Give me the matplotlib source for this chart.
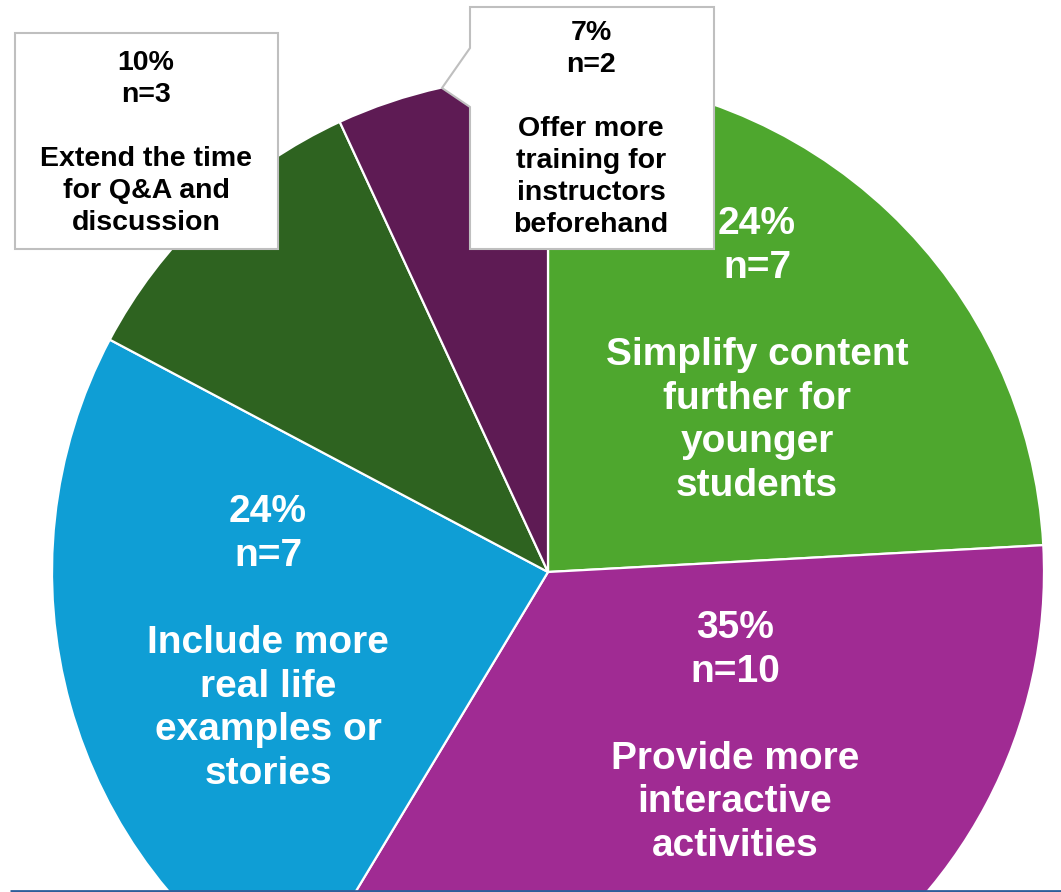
import matplotlib
matplotlib.use("Agg")
import matplotlib.pyplot as plt
from matplotlib.patches import Polygon

# data (clockwise from 12 o'clock)
labels = ["Simplify content\nfurther for\nyounger\nstudents",
          "Provide more\ninteractive\nactivities",
          "Include more\nreal life\nexamples or\nstories",
          "Extend the time\nfor Q&A and\ndiscussion",
          "Offer more\ntraining for\ninstructors\nbeforehand"]
counts = [7, 10, 7, 3, 2]
percents = ["24%", "35%", "24%", "10%", "7%"]
colors = ["#4EA72E", "#A02B93", "#0F9ED5", "#2E6320", "#5E1B54"]

W, H = 1061, 892
fig = plt.figure(figsize=(W / 100, H / 100), dpi=100)
ax = fig.add_axes([0, 0, 1, 1])

def py(y):
    # pixel row from top -> data y
    return H - y

ax.pie(counts, colors=colors, startangle=90, counterclock=False,
       center=(548, py(572)), radius=496,
       wedgeprops=dict(edgecolor="white", linewidth=1.6))
ax.set_xlim(0, W)
ax.set_ylim(0, H)
ax.set_aspect("equal")
ax.axis("off")

font = "Liberation Sans"

# labels inside the big slices
inside = {0: (757, 355), 1: (735, 737), 2: (268, 643)}
for i, (x, y) in inside.items():
    txt = f"{percents[i]}\nn={counts[i]}\n\n{labels[i]}"
    ax.text(x, py(y), txt, ha="center", va="center", color="white",
            fontsize=28, fontweight="bold", family=font, linespacing=1.27,
            zorder=5)

# callout boxes for the two small slices
box1 = Polygon([(15, py(33)), (278, py(33)), (278, py(249)), (15, py(249))],
               closed=True, facecolor="white", edgecolor="#BFBFBF",
               linewidth=1.5, zorder=3)
ax.add_patch(box1)
box2 = Polygon([(470, py(7)), (714, py(7)), (714, py(249)), (470, py(249)),
                (470, py(107)), (442, py(88)), (470, py(48))],
               closed=True, facecolor="white", edgecolor="#BFBFBF",
               linewidth=1.5, zorder=3)
ax.add_patch(box2)

callouts = {3: (146, 143), 4: (591, 129)}
for i, (x, y) in callouts.items():
    txt = f"{percents[i]}\nn={counts[i]}\n\n{labels[i]}"
    ax.text(x, py(y), txt, ha="center", va="center", color="black",
            fontsize=20.5, fontweight="bold", family=font, linespacing=1.3,
            zorder=5)

# thin rule along the bottom edge
ax.plot([10, W], [1, 1], color="#2E5E9A", linewidth=2, zorder=6,
        solid_capstyle="butt")

fig.savefig("out.png", dpi=100)
